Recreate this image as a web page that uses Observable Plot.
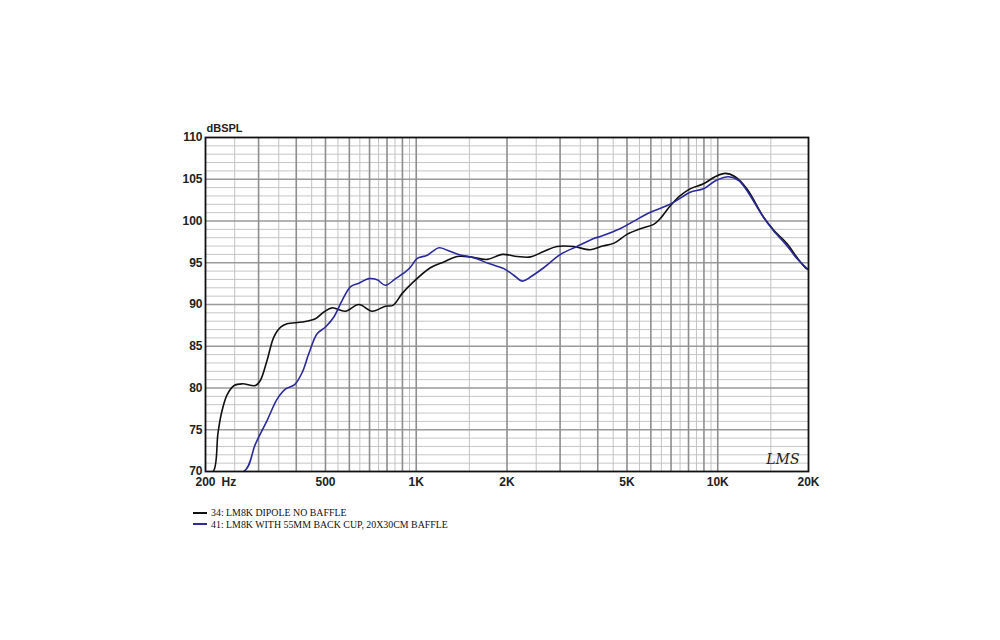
<!DOCTYPE html>
<html>
<head>
<meta charset="utf-8">
<script src="https://cdn.jsdelivr.net/npm/d3@7"></script>
<script src="https://cdn.jsdelivr.net/npm/@observablehq/plot@0.6"></script>
<style>
  html, body { margin: 0; padding: 0; background: #fff; }
  #wrap { position: relative; width: 1000px; height: 640px; }
  #legend { position: absolute; left: 193px; top: 507px; font-family: "Liberation Serif", "Times New Roman", serif; font-size: 9.9px; color: #111; line-height: 11.5px; }
  #legend .row { display: flex; align-items: center; white-space: nowrap; }
  #legend .sw { display: inline-block; width: 14px; height: 2px; margin-right: 4px; }
</style>
</head>
<body>
<div id="wrap">
  <div id="chart"></div>
  <div id="legend"></div>
</div>
<script>
// Series names
const seriesNames = ["34: LM8K DIPOLE NO BAFFLE", "41: LM8K WITH 55MM BACK CUP, 20X30CM BAFFLE"];
const seriesColors = ["#111111", "#2a2a9c"];

// Series 34 (black)
const freq34 = [200, 212, 220, 226, 236, 249, 265, 293, 304, 320, 337, 355, 373, 419, 463, 494, 526, 582, 645, 714, 790, 837, 897, 965, 1114, 1234, 1366, 1512, 1720, 1928, 2162, 2392, 2646, 2928, 3320, 3780, 4150, 4530, 5000, 5540, 6130, 6450, 6970, 7510, 8100, 8970, 9800, 10580, 11420, 12490, 14200, 15340, 16960, 18300, 19540, 20000];
const spl34  = [70, 70, 74.6, 77.0, 79.2, 80.3, 80.5, 80.3, 80.9, 83.3, 86.1, 87.3, 87.7, 87.9, 88.3, 89.1, 89.6, 89.2, 90.0, 89.2, 89.8, 89.9, 91.3, 92.5, 94.4, 95.1, 95.75, 95.7, 95.4, 96.0, 95.75, 95.7, 96.35, 96.95, 96.95, 96.55, 97.0, 97.35, 98.4, 99.07, 99.6, 100.3, 101.85, 103.05, 103.85, 104.45, 105.3, 105.7, 105.3, 103.85, 100.45, 98.9, 97.3, 95.65, 94.4, 94.2];

// Series 41 (blue)
const freq41 = [200, 268, 293, 320, 346, 369, 395, 419, 440, 469, 500, 533, 568, 606, 645, 696, 742, 790, 854, 920, 958, 1006, 1088, 1190, 1268, 1382, 1552, 1742, 1952, 2106, 2246, 2392, 2646, 3010, 3414, 3880, 4080, 4740, 5250, 5980, 6800, 7340, 8100, 8970, 9800, 10880, 11740, 12490, 14200, 15340, 16960, 18300, 20000];
const spl41  = [70, 70, 73.3, 76.1, 78.7, 79.9, 80.4, 81.9, 84.1, 86.5, 87.3, 88.5, 90.5, 92.15, 92.55, 93.1, 92.95, 92.3, 93.1, 93.9, 94.5, 95.5, 95.9, 96.8, 96.5, 96.0, 95.6, 94.9, 94.3, 93.5, 92.8, 93.3, 94.4, 96.0, 96.95, 97.9, 98.15, 99.07, 99.95, 101.05, 101.85, 102.5, 103.45, 103.85, 104.8, 105.3, 104.85, 103.65, 100.4, 98.8, 97.05, 95.5, 94.15];

// Axis ticks and labels
const xTicks = [200, 500, 1000, 2000, 5000, 10000, 20000];
const xTickLabels = ["200", "500", "1K", "2K", "5K", "10K", "20K"];
const yTicks = [70, 75, 80, 85, 90, 95, 100, 105, 110];

// Grid lines
const gridXMajor = [300, 400, 500, 600, 700, 800, 900, 1000, 2000, 3000, 4000, 5000, 6000, 7000, 8000, 9000, 10000];
const gridXMinor = [250, 350, 450, 550, 650, 750, 850, 950, 1500, 2500, 3500, 4500, 5500, 6500, 7500, 8500, 9500, 15000];
const gridYMajor = [75, 80, 85, 90, 95, 100, 105];
const gridYMinor = [71,72,73,74,76,77,78,79,81,82,83,84,86,87,88,89,91,92,93,94,96,97,98,99,101,102,103,104,106,107,108,109];

const data = [
  ...freq34.map((f, i) => ({f, v: spl34[i], s: seriesNames[0]})),
  ...freq41.map((f, i) => ({f, v: spl41[i], s: seriesNames[1]}))
];

const chart = Plot.plot({
  width: 1000,
  height: 500,
  marginLeft: 205,
  marginRight: 192,
  marginTop: 137,
  marginBottom: 29,
  style: {fontFamily: "'Liberation Sans', Arial, sans-serif", background: "#fff"},
  x: {type: "log", domain: [200, 20000]},
  y: {domain: [70, 110]},
  color: {domain: seriesNames, range: seriesColors},
  marks: [
    Plot.ruleY(gridYMinor, {stroke: "#c6c6c6", strokeWidth: 1}),
    Plot.ruleX(gridXMinor, {stroke: "#c2c2c2", strokeWidth: 1}),
    Plot.ruleY(gridYMajor, {stroke: "#9a9a9a", strokeWidth: 1.6}),
    Plot.ruleX(gridXMajor, {stroke: "#8e8e8e", strokeWidth: 1.6}),
    Plot.line(data, {x: "f", y: "v", z: "s", stroke: "s", strokeWidth: 1.6, curve: "catmull-rom", clip: true}),
    Plot.frame({stroke: "#111", strokeWidth: 1.8}),
    Plot.axisY({ticks: yTicks, tickSize: 0, tickPadding: 3, label: null, fontSize: 12, fontWeight: "bold", fill: "#222"}),
    Plot.axisX({ticks: xTicks, tickSize: 0, tickPadding: 6, label: null, fontSize: 12, fontWeight: "bold", fill: "#222",
      tickFormat: d => xTickLabels[xTicks.indexOf(d)]}),
    Plot.text(["Hz"], {frameAnchor: "bottom-left", dx: 16, dy: 6, lineAnchor: "top", textAnchor: "start", fontSize: 12, fontWeight: "bold", fill: "#222"}),
    Plot.text(["dBSPL"], {frameAnchor: "top-left", dx: 1, dy: -13, textAnchor: "start", fontSize: 11, fontWeight: "bold", fill: "#222"}),
    Plot.text(["LMS"], {frameAnchor: "bottom-right", dx: -9, dy: -8, textAnchor: "end", fontSize: 14, fontStyle: "italic", fontFamily: "'DejaVu Serif', serif", fill: "#222"})
  ]
});
document.getElementById("chart").appendChild(chart);

const legend = document.getElementById("legend");
seriesNames.forEach((n, i) => {
  const row = document.createElement("div");
  row.className = "row";
  const sw = document.createElement("span");
  sw.className = "sw";
  sw.style.background = seriesColors[i];
  row.appendChild(sw);
  const t = document.createElement("span");
  t.textContent = n;
  row.appendChild(t);
  legend.appendChild(row);
});
</script>
</body>
</html>
